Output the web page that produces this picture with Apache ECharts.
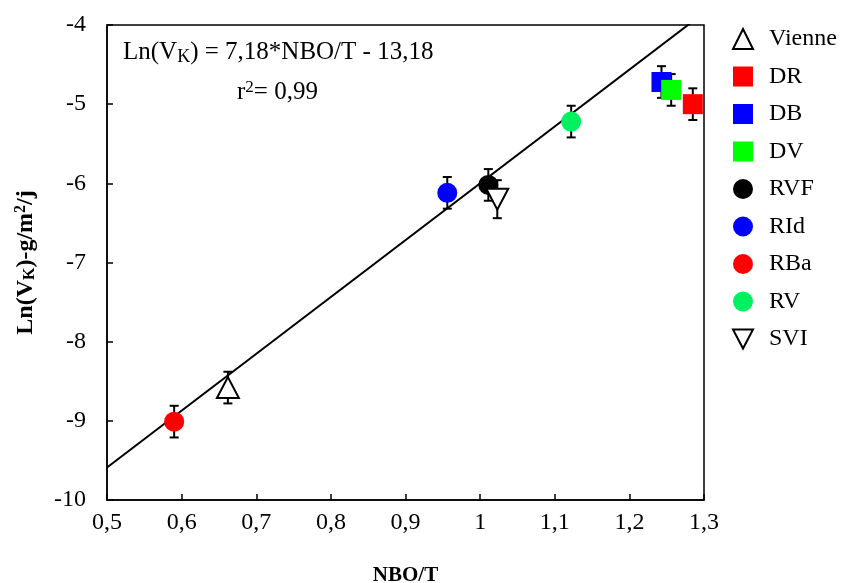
<!DOCTYPE html>
<html><head><meta charset="utf-8">
<script src="https://cdn.jsdelivr.net/npm/echarts@6/dist/echarts.min.js"></script>
<style>html,body{margin:0;padding:0;background:#fff}#c{width:843px;height:583px}</style>
</head><body><div id="c"></div>
<script>
const seriesNames = ['Vienne','DR','DB','DV','RVF','RId','RBa','RV','SVI'];
const xValues = [0.662, 1.285, 1.243, 1.256, 1.011, 0.956, 0.59, 1.122, 1.023];
const yValues = [-8.58, -5.00, -4.72, -4.82, -6.02, -6.12, -9.01, -5.22, -6.20];
const yErrors = [0.2, 0.2, 0.2, 0.2, 0.2, 0.2, 0.2, 0.2, 0.24];
const colors = ['#ffffff','#ff0000','#0000ff','#00ff00','#000000','#0000ff','#ff0000','#00f060','#ffffff'];
const symbols = ['triangle','rect','rect','rect','circle','circle','circle','circle','triangle'];
const rotations = [0,0,0,0,0,0,0,0,180];
const slope = 7.18, intercept = -13.18;
const xTicks = [0.5,0.6,0.7,0.8,0.9,1.0,1.1,1.2,1.3];
const yTicks = [-10,-9,-8,-7,-6,-5,-4];

const font = 'Liberation Serif';
const chart = echarts.init(document.getElementById('c'));
const scatterSeries = seriesNames.map((n,i)=>({
  name:n, type:'scatter', z:5,
  symbol:symbols[i], symbolSize: symbols[i]==='triangle'?[22,21]:20, symbolRotate:rotations[i],
  itemStyle:{color:colors[i], borderColor: colors[i]==='#ffffff'?'#000':colors[i], borderWidth: colors[i]==='#ffffff'?2:0, opacity:1},
  data:[[xValues[i], yValues[i]]]
}));
const errData = xValues.map((x,i)=>[x, yValues[i]-yErrors[i], yValues[i]+yErrors[i]]);
const legendData = seriesNames.map((n,i)=> rotations[i]===180 ? {name:n, icon:'path://M0,0L20,0L10,19Z'} : n);
const fmtX = v => { const r = Math.round(v*10)/10; return (Number.isInteger(r) ? String(r) : r.toFixed(1)).replace('.',','); };
const option = {
  animation:false,
  textStyle:{fontFamily:font},
  grid:{left:107,right:139,top:25,bottom:83,show:true,borderColor:'#000',borderWidth:1.5,outerBoundsMode:'none',containLabel:false},
  xAxis:{type:'value',min:0.5,max:1.3,interval:0.1,
    name:'NBO/T',nameLocation:'middle',nameGap:65,
    nameTextStyle:{fontFamily:font,fontSize:21,fontWeight:'bold',color:'#000'},
    axisLine:{lineStyle:{color:'#000',width:1.5}},
    axisTick:{inside:true,length:6,lineStyle:{color:'#000',width:1.5}},
    axisLabel:{fontFamily:font,fontSize:24,color:'#000',margin:11,formatter:fmtX},
    splitLine:{show:false}},
  yAxis:{type:'value',min:-10,max:-4,interval:1,
    name:'{b|Ln(V}{s|K}{b|)-g/m}{p|2}{b|/j}',nameLocation:'middle',nameGap:69,
    nameTextStyle:{fontFamily:font,fontSize:24,fontWeight:'bold',color:'#000',
      rich:{b:{fontFamily:font,fontSize:24,fontWeight:'bold'},s:{fontFamily:font,fontSize:16,fontWeight:'bold',verticalAlign:'bottom',padding:[9,0,0,0]},p:{fontFamily:font,fontSize:16,fontWeight:'bold',verticalAlign:'top',padding:[0,0,9,0]}}},
    axisLine:{lineStyle:{color:'#000',width:1.5}},
    axisTick:{inside:true,length:6,lineStyle:{color:'#000',width:1.5}},
    axisLabel:{fontFamily:font,fontSize:24,color:'#000',margin:21},
    splitLine:{show:false}},
  legend:{orient:'vertical',left:727,top:22,itemWidth:20,itemHeight:20,itemGap:13.5,
    textStyle:{fontFamily:font,fontSize:24,color:'#000',padding:[0,0,0,11]},
    data:legendData},
  graphic:[
    {type:'text',left:123,top:40,style:{text:'{n|Ln(V}{s|K}{n|) = 7,18*NBO/T - 13,18}',fontFamily:font,fontSize:25,fill:'#000',
      rich:{n:{fontFamily:font,fontSize:25},s:{fontFamily:font,fontSize:18,padding:[10,0,0,0]}}}},
    {type:'text',left:237,top:79,style:{text:'{n|r}{p|2}{n|= 0,99}',fontFamily:font,fontSize:25,fill:'#000',
      rich:{n:{fontFamily:font,fontSize:25},p:{fontFamily:font,fontSize:17,padding:[0,0,10,0]}}}}
  ],
  series:[
    {type:'line',name:'fit',data:[[0.5,slope*0.5+intercept],[1.3,slope*1.3+intercept]],symbol:'none',
      lineStyle:{color:'#000',width:2},clip:true,z:2,silent:true},
    {type:'custom',name:'err',z:3,data:errData,clip:false,
      renderItem:(params,api)=>{
        const p1=api.coord([api.value(0),api.value(1)]);
        const p2=api.coord([api.value(0),api.value(2)]);
        const h=4.5;
        const st={stroke:'#000',lineWidth:2};
        return {type:'group',children:[
          {type:'line',shape:{x1:p1[0],y1:p1[1],x2:p2[0],y2:p2[1]},style:st},
          {type:'line',shape:{x1:p1[0]-h,y1:p1[1],x2:p1[0]+h,y2:p1[1]},style:st},
          {type:'line',shape:{x1:p2[0]-h,y1:p2[1],x2:p2[0]+h,y2:p2[1]},style:st}
        ]};
      }},
    ...scatterSeries
  ]
};
chart.setOption(option);
</script></body></html>
